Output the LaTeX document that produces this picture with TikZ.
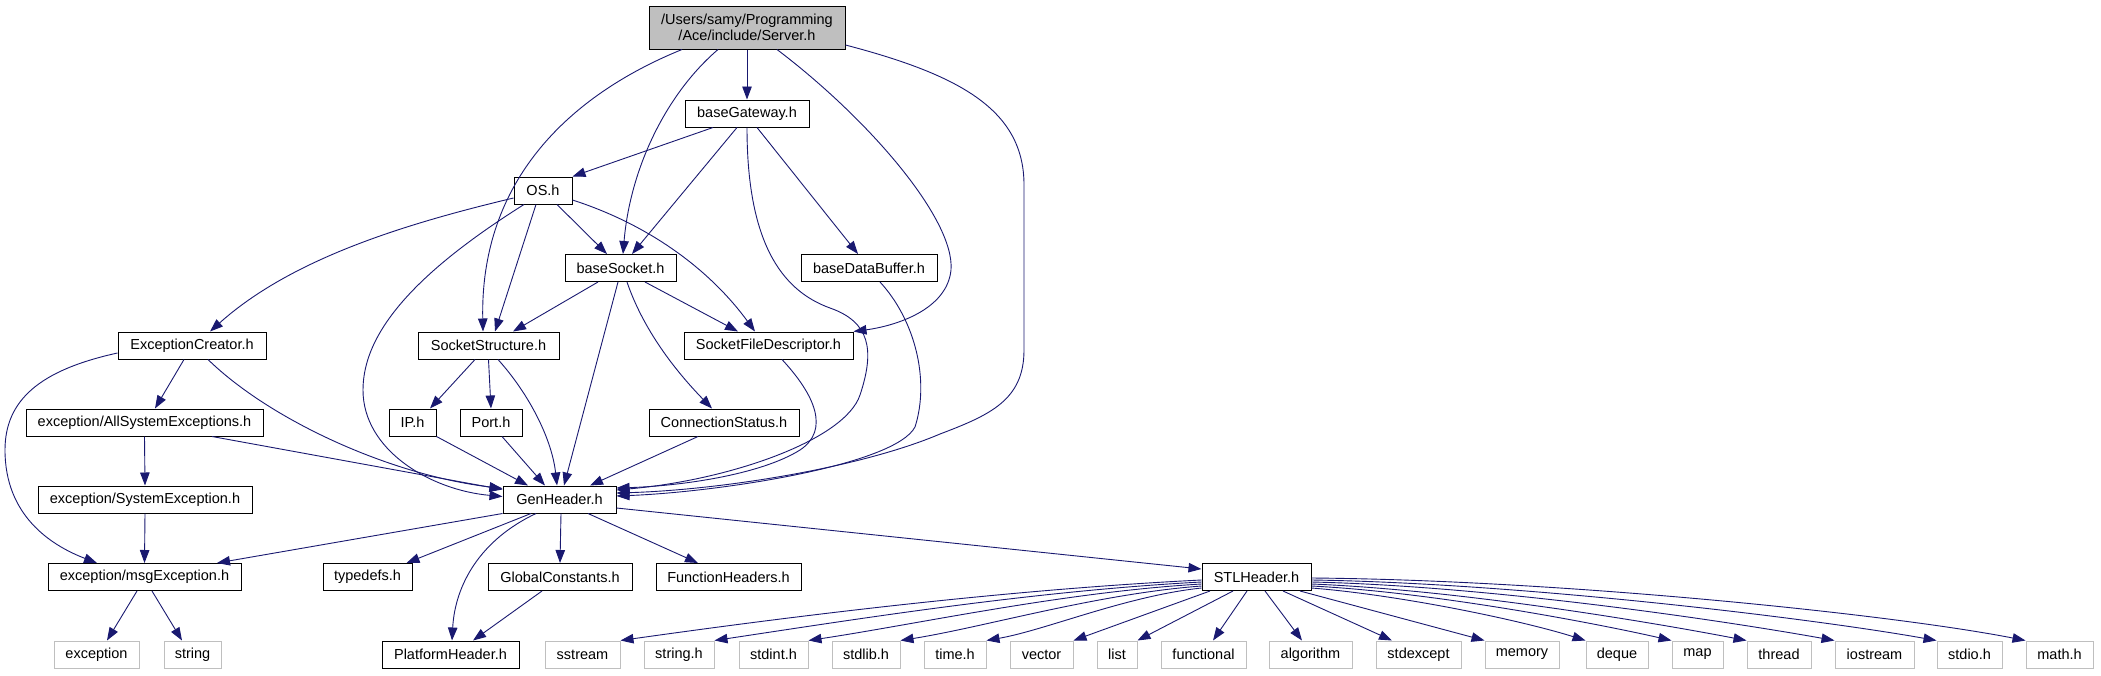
\documentclass[tikz,border=0pt]{standalone}
\usepackage{fontspec}
\setmainfont{Liberation Sans}
\usetikzlibrary{arrows.meta}
\definecolor{edgec}{HTML}{191970}
\definecolor{sysc}{HTML}{BFBFBF}
\definecolor{rootc}{HTML}{BFBFBF}
\tikzset{
  hdr/.style={draw=black, line width=1pt, fill=white, minimum height=27pt, inner sep=0pt, font=\fontsize{14.5}{16}\selectfont, text=black},
  sys/.style={hdr, draw=sysc},
  root/.style={hdr, fill=rootc, minimum height=43pt, align=center},
  dep/.style={draw=edgec, line width=0.9pt, -{Triangle[length=13pt,width=9.5pt]}},
}
\begin{document}
\begin{tikzpicture}[x=1pt,y=-1pt]
\useasboundingbox (0,0) rectangle (2101,675);
% nodes
\node[root, minimum width=196pt] (sv) at (747,27.5) {/Users/samy/Programming\\/Ace/include/Server.h};
\node[hdr, minimum width=124pt] (bg) at (747,113.5) {baseGateway.h};
\node[hdr, minimum width=58pt] (os) at (543,190.5) {OS.h};
\node[hdr, minimum width=111pt] (bs) at (620.5,268) {baseSocket.h};
\node[hdr, minimum width=136pt] (bdb) at (869,268) {baseDataBuffer.h};
\node[hdr, minimum width=148pt] (ec) at (192,345.5) {ExceptionCreator.h};
\node[hdr, minimum width=141pt] (ss) at (488.5,345.5) {SocketStructure.h};
\node[hdr, minimum width=169pt] (sfd) at (768.5,345.5) {SocketFileDescriptor.h};
\node[hdr, minimum width=237pt] (ase) at (144.5,422.5) {exception/AllSystemExceptions.h};
\node[hdr, minimum width=47pt] (ip) at (412.5,422.5) {IP.h};
\node[hdr, minimum width=62pt] (port) at (491,422.5) {Port.h};
\node[hdr, minimum width=150pt] (cs) at (724,422.5) {ConnectionStatus.h};
\node[hdr, minimum width=214pt] (se) at (145,499.5) {exception/SystemException.h};
\node[hdr, minimum width=113pt] (gh) at (559.5,499.5) {GenHeader.h};
\node[hdr, minimum width=193pt] (me) at (144.5,577) {exception/msgException.h};
\node[hdr, minimum width=89pt] (td) at (367.5,577) {typedefs.h};
\node[hdr, minimum width=144pt] (gc) at (560,577) {GlobalConstants.h};
\node[hdr, minimum width=145pt] (fh) at (728.5,577) {FunctionHeaders.h};
\node[hdr, minimum width=109pt] (stl) at (1256.5,577) {STLHeader.h};
\node[sys, minimum width=85pt] (exc) at (96.5,654.5) {exception};
\node[sys, minimum width=57pt] (str) at (192.5,654.5) {string};
\node[hdr, minimum width=137pt] (ph) at (450.5,654.5) {PlatformHeader.h};
\node[sys, minimum width=75pt] (sstr) at (582.5,654.5) {sstream};
\node[sys, minimum width=70pt] (strh) at (679,654.5) {string.h};
\node[sys, minimum width=69pt] (sint) at (773.5,654.5) {stdint.h};
\node[sys, minimum width=68pt] (slib) at (866,654.5) {stdlib.h};
\node[sys, minimum width=62pt] (timeh) at (955,654.5) {time.h};
\node[sys, minimum width=63pt] (vec) at (1041.5,654.5) {vector};
\node[sys, minimum width=40pt] (lst) at (1117,654.5) {list};
\node[sys, minimum width=85pt] (func) at (1203.5,654.5) {functional};
\node[sys, minimum width=83pt] (alg) at (1310.5,654.5) {algorithm};
\node[sys, minimum width=85pt] (sexc) at (1418.5,654.5) {stdexcept};
\node[sys, minimum width=74pt] (mem) at (1522,654.5) {memory};
\node[sys, minimum width=62pt] (deq) at (1617,654.5) {deque};
\node[sys, minimum width=51pt] (mp) at (1697.5,654.5) {map};
\node[sys, minimum width=64pt] (thr) at (1779,654.5) {thread};
\node[sys, minimum width=79pt] (ios) at (1874.5,654.5) {iostream};
\node[sys, minimum width=65pt] (sio) at (1969.5,654.5) {stdio.h};
\node[sys, minimum width=67pt] (mth) at (2059.5,654.5) {math.h};
% Server.h
\draw[dep] (sv.south) -- (bg.north);
\draw[dep] ([xshift=-65pt]sv.south) .. controls (570,95) and (480,180) .. ([xshift=-5.5pt]ss.north);
\draw[dep] ([xshift=-29pt]sv.south) .. controls (665,95) and (630,170) .. ([xshift=2.5pt]bs.north);
\draw[dep] ([xshift=30pt]sv.south) .. controls (870,120) and (955,220) .. (951,270) .. controls (947,310) and (895,326) .. (sfd.north east);
\draw[dep] ([yshift=-17.5pt]sv.east) .. controls (960,75) and (1024,110) .. (1024,185) -- (1024,350) .. controls (1024,400) and (990,415) .. (940,434) .. controls (860,468) and (720,490) .. ([yshift=6.5pt]gh.east);
% baseGateway.h
\draw[dep] ([xshift=-34pt]bg.south) -- (os.north east);
\draw[dep] ([xshift=-10pt]bg.south) -- ([xshift=11.5pt]bs.north);
\draw[dep] ([xshift=10pt]bg.south) -- ([xshift=-11pt]bdb.north);
\draw[dep] (bg.south) .. controls (747,240) and (780,290) .. (830,308) .. controls (870,322) and (875,350) .. (860,395) .. controls (845,440) and (730,480) .. ([yshift=9.5pt]gh.east);
% baseDataBuffer.h, SocketFileDescriptor.h
\draw[dep] ([xshift=11pt]bdb.south) .. controls (915,320) and (930,380) .. (915,427) .. controls (895,465) and (720,492) .. ([yshift=3.5pt]gh.east);
\draw[dep] ([xshift=13.5pt]sfd.south) .. controls (815,395) and (830,430) .. (800,450) .. controls (760,475) and (680,486) .. ([yshift=11.5pt]gh.east);
% OS.h
\draw[dep] ([yshift=-7.5pt]os.west) .. controls (400,225) and (290,260) .. ([xshift=18pt]ec.north);
\draw[dep] ([xshift=-7pt]os.south) -- ([xshift=6.5pt]ss.north);
\draw[dep] ([xshift=-19pt]os.south) .. controls (420,270) and (363,330) .. (363,390) .. controls (363,450) and (430,490) .. ([yshift=3pt]gh.west);
\draw[dep] ([xshift=14pt]os.south) -- ([xshift=-13.5pt]bs.north);
\draw[dep] ([yshift=-9.5pt]os.east) .. controls (650,225) and (710,270) .. ([xshift=-13.5pt]sfd.north);
% baseSocket.h
\draw[dep] ([xshift=-22.5pt]bs.south) -- ([xshift=24.5pt]ss.north);
\draw[dep] ([xshift=24.5pt]bs.south) -- ([xshift=-30.5pt]sfd.north);
\draw[dep] ([xshift=-2.5pt]bs.south) -- ([xshift=4.5pt]gh.north);
\draw[dep] ([xshift=6.5pt]bs.south) .. controls (640,320) and (665,360) .. ([xshift=-12pt]cs.north);
% ExceptionCreator.h
\draw[dep] ([xshift=-8pt]ec.south) -- ([xshift=10.5pt]ase.north);
\draw[dep] ([yshift=-7.5pt]ec.west) .. controls (40,370) and (5,400) .. (5,450) .. controls (5,515) and (50,545) .. ([xshift=-47.5pt]me.north);
\draw[dep] ([xshift=16pt]ec.south) .. controls (270,420) and (390,475) .. ([yshift=11pt]gh.west);
% AllSystemExceptions, SystemException
\draw[dep] (ase.south) -- (se.north);
\draw[dep] ([xshift=67.5pt]ase.south) -- ([yshift=10pt]gh.west);
\draw[dep] (se.south) -- (me.north);
% SocketStructure.h
\draw[dep] ([xshift=-13.5pt]ss.south) -- ([xshift=17.5pt]ip.north);
\draw[dep] (ss.south) -- (port.north);
\draw[dep] ([xshift=9.5pt]ss.south) .. controls (530,395) and (552,440) .. ([xshift=-2.5pt]gh.north);
\draw[dep] (ip.south east) -- ([xshift=-31.5pt]gh.north);
\draw[dep] ([xshift=11pt]port.south) -- ([xshift=-14.5pt]gh.north);
\draw[dep] ([xshift=-26pt]cs.south) -- ([xshift=30.5pt]gh.north);
% GenHeader.h
\draw[dep] (gh.south west) -- ([xshift=72.5pt]me.north);
\draw[dep] ([xshift=-28.5pt]gh.south) -- ([xshift=39pt]td.north);
\draw[dep] ([xshift=-23.5pt]gh.south) .. controls (480,540) and (455,585) .. ([xshift=1.5pt]ph.north);
\draw[dep] ([xshift=1.5pt]gh.south) -- (gc.north);
\draw[dep] ([xshift=28.5pt]gh.south) -- ([xshift=-30.5pt]fh.north);
\draw[dep] ([yshift=-8.5pt]gh.east) -- ([yshift=8pt]stl.west);
\draw[dep] ([xshift=-18pt]gc.south) -- ([xshift=22.5pt]ph.north);
\draw[dep] ([xshift=-7.5pt]me.south) -- ([xshift=10.5pt]exc.north);
\draw[dep] ([xshift=7.5pt]me.south) -- ([xshift=-10.5pt]str.north);
% STLHeader.h
\draw[dep] ([yshift=-3pt]stl.west) .. controls (998,590) and (780,618) .. (sstr.north east);
\draw[dep] ([yshift=-5pt]stl.west) .. controls (1031,591) and (851,620) .. (strh.north east);
\draw[dep] ([yshift=-7pt]stl.west) .. controls (1064,592) and (918,624) .. (sint.north east);
\draw[dep] ([yshift=-9pt]stl.west) .. controls (1096,594) and (985,627) .. (slib.north east);
\draw[dep] ([yshift=-11pt]stl.west) .. controls (1126,596) and (1046,630) .. (timeh.north east);
\draw[dep] ([xshift=-46.5pt]stl.south) -- (vec.north east);
\draw[dep] ([xshift=-23.5pt]stl.south) -- (lst.north east);
\draw[dep] ([xshift=-9.5pt]stl.south) -- ([xshift=9.5pt]func.north);
\draw[dep] ([xshift=8.5pt]stl.south) -- ([xshift=-8.5pt]alg.north);
\draw[dep] ([xshift=26.5pt]stl.south) -- ([xshift=-26.5pt]sexc.north);
\draw[dep] ([xshift=43.5pt]stl.south) -- (mem.north west);
\draw[dep] ([yshift=-11pt]stl.east) .. controls (1400,595) and (1520,620) .. (deq.north west);
\draw[dep] ([yshift=-9pt]stl.east) .. controls (1430,592) and (1590,622) .. (mp.north west);
\draw[dep] ([yshift=-7pt]stl.east) .. controls (1460,590) and (1650,622) .. (thr.north west);
\draw[dep] ([yshift=-5pt]stl.east) .. controls (1490,586) and (1720,620) .. (ios.north west);
\draw[dep] ([yshift=-3pt]stl.east) .. controls (1520,583) and (1810,618) .. (sio.north west);
\draw[dep] ([yshift=-1pt]stl.east) .. controls (1560,580) and (1890,614) .. (mth.north west);
\end{tikzpicture}
\end{document}
